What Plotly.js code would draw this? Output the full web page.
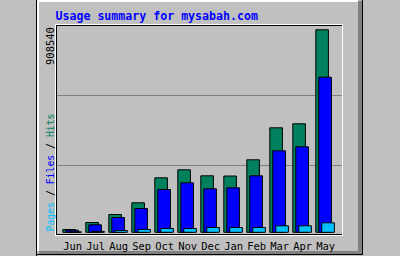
<!DOCTYPE html>
<html>
<head>
<meta charset="utf-8">
<script src="https://cdn.plot.ly/plotly-3.0.1.min.js"></script>
<style>html,body{margin:0;padding:0;background:#c0c0c0;}#chart{width:400px;height:256px;}</style>
</head>
<body>
<div id="chart"></div>
<script>
// ---- data ----
var months = ["Jun","Jul","Aug","Sep","Oct","Nov","Dec","Jan","Feb","Mar","Apr","May"];
var hits   = [12600, 44000, 79900, 132400, 244500, 280400, 253500, 252500, 325300, 468800, 486800, 908540];
var files  = [9400, 33600, 66400, 106800, 192000, 222100, 195200, 199700, 253500, 365700, 383600, 695900];
var pages  = [2000, 4000, 8100, 12600, 17000, 17000, 21500, 21500, 21500, 29200, 29200, 42600];
var maxLabel = "908540";
var titleText = "Usage summary for mysabah.com";

// ---- geometry helpers (pixel -> paper) ----
var PL = 56, PR = 342, PT = 25, PB = 233;
function X(px){ return (px - PL) / (PR - PL); }
function Y(py){ return (PB - py) / (PB - PT); }
function rect(x0, y0, x1, y1, color, layer){
  return {type:'rect', xref:'paper', yref:'paper', x0:X(x0), x1:X(x1), y0:Y(y1), y1:Y(y0),
          fillcolor:color, line:{width:0}, layer:layer || 'above'};
}
var mono = 'DejaVu Sans Mono';
var cHits = '#00805c', cFiles = '#0000ff', cPages = '#00c0ff';

var barW = 0.548;
function barTrace(vals, color, off){
  return {type:'bar', x:months, y:vals, width:barW, offset:off,
          marker:{color:color, line:{color:'#000000', width:1}}, hoverinfo:'skip'};
}
var data = [
  barTrace(hits, cHits, -0.430),
  barTrace(files, cFiles, -0.300),
  barTrace(pages, cPages, -0.170)
];

var s = 908540 / 202.5;
var shapes = [
  // outer panel
  rect(36, 0, 37, 256, '#000000', 'below'),
  rect(362, 0, 363, 255, '#000000', 'below'),
  rect(36, 254, 363, 255, '#000000', 'below'),
  rect(37, 0, 358, 2, '#ffffff', 'below'),
  rect(37, 0, 39, 251, '#ffffff', 'below'),
  rect(358, 1, 362, 254, '#808080', 'below'),
  rect(39, 251, 362, 254, '#808080', 'below'),
  // plot frame
  rect(55, 24, 343, 25, '#ffffff'),
  rect(56, 25, 342, 26, '#000000'),
  rect(55, 24, 56, 236, '#ffffff'),
  rect(56, 25, 57, 235, '#000000'),
  rect(56, 234, 342, 235, '#000000'),
  rect(55, 235, 343, 236, '#ffffff'),
  rect(342, 24, 343, 236, '#ffffff')
];

var layout = {
  width:400, height:256,
  margin:{l:PL, r:400-PR, t:PT, b:256-PB, pad:0},
  paper_bgcolor:'#c0c0c0', plot_bgcolor:'#c0c0c0',
  showlegend:false, hovermode:false, barmode:'overlay',
  title:{text:titleText, xref:'container', yref:'container', x:55.5/400, xanchor:'left',
         y:1-15.5/256, yanchor:'middle',
         font:{family:mono, size:11.6, color:'#0000ff', weight:'bold'}},
  xaxis:{type:'category', range:[-0.726, 11.709], showgrid:false, zeroline:false, showline:false,
         ticks:'', ticklabelstandoff:5, tickfont:{family:mono, size:10.5, color:'#000000'}, fixedrange:true},
  yaxis:{range:[-0.7*s, 207.3*s], tickvals:[299700, 613800], showticklabels:false,
         showgrid:true, gridcolor:'#808080', gridwidth:1, zeroline:false, showline:false,
         ticks:'', fixedrange:true},
  shapes:shapes,
  annotations:[
    {text:maxLabel, xref:'paper', yref:'paper', x:X(49.5), y:Y(25.5), xanchor:'center', yanchor:'top',
     textangle:-90, showarrow:false, font:{family:mono, size:10.5, color:'#000000'}},
    {text:'<span style="color:'+cPages+'">Pages</span> / <span style="color:'+cFiles+'">Files</span> / <span style="color:'+cHits+'">Hits</span>',
     xref:'paper', yref:'paper', x:X(49.5), y:Y(234), xanchor:'center', yanchor:'bottom',
     textangle:-90, showarrow:false, font:{family:mono, size:9.8, color:'#000000'}}
  ]
};
Plotly.newPlot('chart', data, layout, {staticPlot:true, displayModeBar:false});
</script>
</body>
</html>
